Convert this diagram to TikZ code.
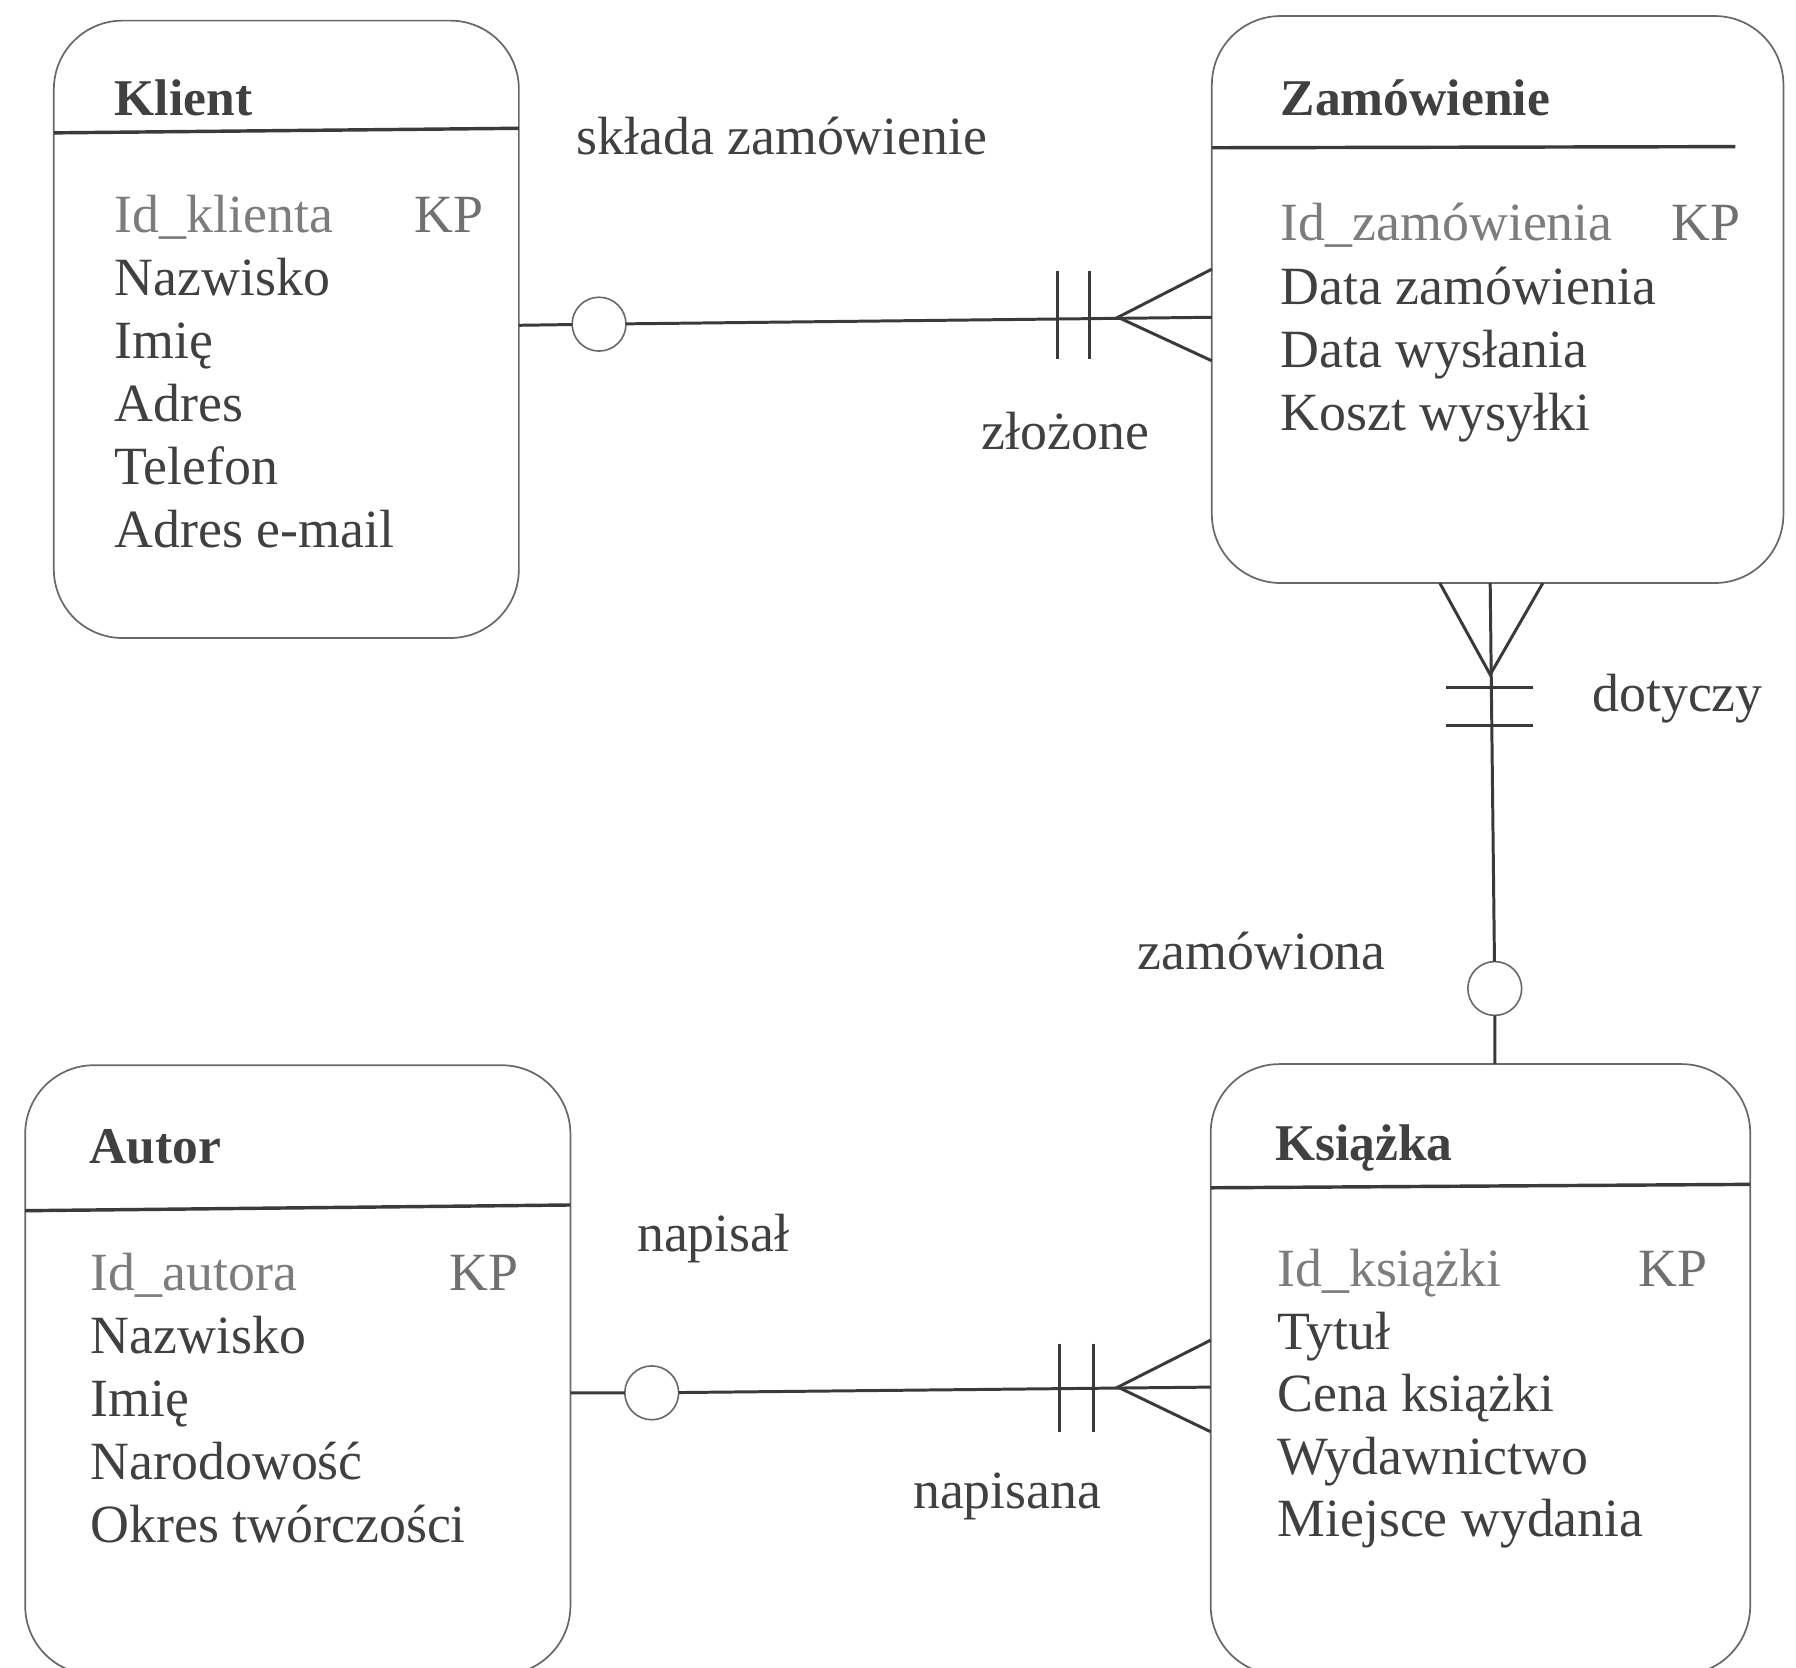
\documentclass[tikz,border=0pt]{standalone}
\usepackage{fontspec}
\setmainfont{Liberation Serif}
\usetikzlibrary{calc}
\definecolor{ink}{HTML}{404040}
\definecolor{pale}{HTML}{7C7C7C}
\definecolor{edge}{HTML}{686868}
\definecolor{rule}{HTML}{3A3A3A}
\begin{document}
\begin{tikzpicture}[x=1pt,y=-1pt,
  entity/.style={draw=edge, line width=1.5pt, rounded corners=60pt,
    inner sep=0pt, outer sep=0pt, anchor=north west},
  header/.style={draw=rule, line width=3pt},
  conn/.style={draw=rule, line width=2.6pt},
  optc/.style={circle, draw=edge, line width=1.4pt, fill=white,
    minimum size=47pt, inner sep=0pt, outer sep=0pt},
  title/.style={font=\fontsize{45}{54}\selectfont\bfseries, text=ink,
    inner sep=0pt, anchor=base west},
  attr/.style={font=\fontsize{47}{55}\selectfont, text=ink,
    inner sep=0pt, anchor=base west},
  keyattr/.style={attr, text=pale},
  rel/.style={font=\fontsize{47}{55}\selectfont, text=ink,
    inner sep=0pt, anchor=base west}]

\useasboundingbox (0,0) rectangle (1568,1456);

% entity boxes
\node[entity, minimum width=406pt, minimum height=539pt] (klient) at (47,18) {};
\node[entity, minimum width=499pt, minimum height=495pt] (zam) at (1058,14) {};
\node[entity, minimum width=476pt, minimum height=532pt] (autor) at (22,930) {};
\node[entity, minimum width=471pt, minimum height=533pt] (ksiazka) at (1057,929) {};

% header separators
\draw[header] ($(klient.north west)+(0,98)$) -- ($(klient.north east)+(0,94)$);
\draw[header] ($(zam.north west)+(0,115)$) -- ($(zam.north west)+(457,114)$);
\draw[header] ($(autor.north west)+(0,127)$) -- ($(autor.north east)+(0,122)$);
\draw[header] ($(ksiazka.north west)+(0,108)$) -- ($(ksiazka.north east)+(0,105)$);

% Klient
\node[title] (kT) at (100,101) {Klient};
\node[keyattr] (k1) at (100,203) {Id\_klienta};
\node[attr, text=pale!80!ink] (kK) at (362,203) {KP};
\node[attr] (k2) at (100,258) {Nazwisko};
\node[attr] (k3) at (100,313) {Imię};
\node[attr] (k4) at (100,368) {Adres};
\node[attr] (k5) at (100,423) {Telefon};
\node[attr] (k6) at (100,478) {Adres e-mail};

% Zamówienie
\node[title] (zT) at (1118,101) {Zamówienie};
\node[keyattr] (z1) at (1118,210) {Id\_zamówienia};
\node[attr, text=pale!80!ink] (zK) at (1459,210) {KP};
\node[attr] (z2) at (1118,266) {Data zamówienia};
\node[attr] (z3) at (1118,321) {Data wysłania};
\node[attr] (z4) at (1118,376) {Koszt wysyłki};

% Autor
\node[title] (aT) at (78,1016) {Autor};
\node[keyattr] (a1) at (79,1127) {Id\_autora};
\node[attr, text=pale!80!ink] (aK) at (392,1127) {KP};
\node[attr] (a2) at (79,1182) {Nazwisko};
\node[attr] (a3) at (79,1237) {Imię};
\node[attr] (a4) at (79,1292) {Narodowość};
\node[attr] (a5) at (79,1347) {Okres twórczości};

% Książka
\node[title] (bT) at (1113,1013) {Książka};
\node[keyattr] (b1) at (1115,1123) {Id\_książki};
\node[attr, text=pale!80!ink] (bK) at (1430,1123) {KP};
\node[attr] (b2) at (1115,1178) {Tytuł};
\node[attr] (b3) at (1115,1232) {Cena książki};
\node[attr] (b4) at (1115,1287) {Wydawnictwo};
\node[attr] (b5) at (1115,1341) {Miejsce wydania};

% Klient -- Zamówienie
\coordinate (kzA) at ($(klient.north east)+(0,266)$);
\coordinate (kzB) at ($(zam.north west)+(0,263)$);
\node[optc] (c1) at (523,283) {};
\draw[conn] (kzA) -- (c1) -- (kzB);
\draw[conn] ($(kzB)+(-135,-40)$) -- ($(kzB)+(-135,36)$);
\draw[conn] ($(kzB)+(-107,-40)$) -- ($(kzB)+(-107,36)$);
\draw[conn] ($(kzB)+(0,-42)$) -- ($(kzB)+(-82,0)$) -- ($(kzB)+(0,38)$);
\node[rel] (l1) at (503,135) {składa zamówienie};
\node[rel] (l2) at (857,392) {złożone};

% Zamówienie -- Książka
\coordinate (zbA) at ($(zam.south west)+(243,0)$);
\coordinate (zbB) at ($(ksiazka.north west)+(248,0)$);
\node[optc] (c2) at (1305,863) {};
\draw[conn] (zbA) -- (c2) -- (zbB);
\draw[conn] ($(zbA)+(-39,91)$) -- ($(zbA)+(37,91)$);
\draw[conn] ($(zbA)+(-39,124)$) -- ($(zbA)+(37,124)$);
\draw[conn] ($(zbA)+(-44,0)$) -- ($(zbA)+(0,80)$) -- ($(zbA)+(46,0)$);
\node[rel] (l3) at (1390,621) {dotyczy};
\node[rel] (l4) at (993,846) {zamówiona};

% Autor -- Książka
\coordinate (abA) at ($(autor.north east)+(0,286)$);
\coordinate (abB) at ($(ksiazka.north west)+(0,282)$);
\node[optc] (c3) at (569,1216) {};
\draw[conn] (abA) -- (c3) -- (abB);
\draw[conn] ($(abB)+(-132,-38)$) -- ($(abB)+(-132,39)$);
\draw[conn] ($(abB)+(-102,-38)$) -- ($(abB)+(-102,39)$);
\draw[conn] ($(abB)+(0,-41)$) -- ($(abB)+(-81,0)$) -- ($(abB)+(0,39)$);
\node[rel] (l5) at (556,1093) {napisał};
\node[rel] (l6) at (797,1317) {napisana};
\end{tikzpicture}
\end{document}
